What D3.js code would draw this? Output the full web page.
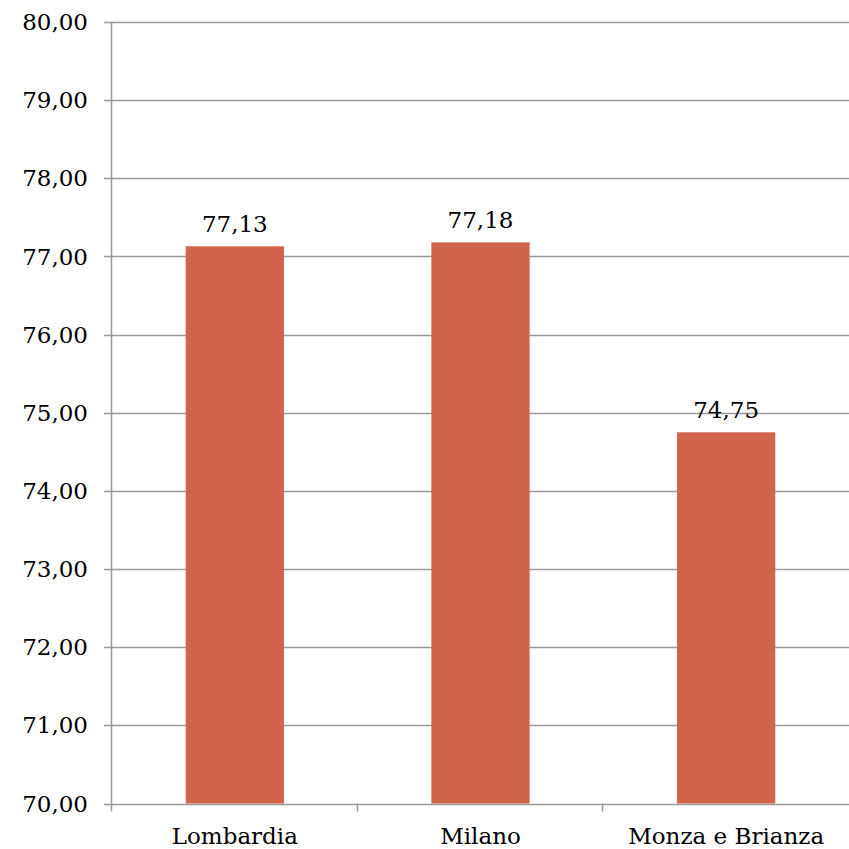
<!DOCTYPE html>
<html><head><meta charset="utf-8">
<script src="https://cdn.jsdelivr.net/npm/d3@7"></script>
<style>body{margin:0;background:#fff}svg{display:block}text{font-family:"DejaVu Serif",serif}</style>
</head><body>
<script>
const categories = ["Lombardia", "Milano", "Monza e Brianza"];
const values = [77.13, 77.18, 74.75];
const yTicks = [70, 71, 72, 73, 74, 75, 76, 77, 78, 79, 80];

const W = 849, H = 849;
const m = {left: 112, right: 0, top: 22, bottom: 45};
const fs = 23;
const fmt = v => v.toFixed(2).replace(".", ",");

const svg = d3.select("body").append("svg").attr("width", W).attr("height", H);
const x = d3.scaleBand().domain(categories).range([m.left, W - m.right]).paddingInner(0.6).paddingOuter(0.3);
const y = d3.scaleLinear().domain([70, 80]).range([H - m.bottom - 0.5, m.top]);

// gridlines
svg.append("g").selectAll("line").data(yTicks).join("line")
  .attr("x1", m.left - 8).attr("x2", W).attr("y1", d => Math.round(y(d)) + 0.5).attr("y2", d => Math.round(y(d)) + 0.5)
  .attr("stroke", "#999").attr("stroke-width", 1.5);

// y labels
svg.append("g").selectAll("text").data(yTicks).join("text")
  .attr("x", 88).attr("y", d => y(d)).attr("dy", "0.35em").attr("text-anchor", "end")
  .attr("font-size", fs).attr("fill", "#000").text(fmt);

// bars
svg.append("g").selectAll("rect").data(values).join("rect")
  .attr("x", (d, i) => x(categories[i])).attr("width", x.bandwidth())
  .attr("y", d => y(d)).attr("height", d => y(70) - y(d))
  .attr("fill", "#d0644a");

// axes lines
svg.append("line").attr("x1", m.left - 0.5).attr("x2", m.left - 0.5).attr("y1", m.top).attr("y2", y(70))
  .attr("stroke", "#999").attr("stroke-width", 1.5);
const xt = [m.left, m.left + (W - m.left) / 3, m.left + 2 * (W - m.left) / 3];
svg.append("g").selectAll("line").data(xt).join("line")
  .attr("x1", d => Math.round(d) - 0.5).attr("x2", d => Math.round(d) - 0.5)
  .attr("y1", y(70)).attr("y2", y(70) + 8).attr("stroke", "#999").attr("stroke-width", 1.5);

// value labels
svg.append("g").selectAll("text").data(values).join("text")
  .attr("x", (d, i) => x(categories[i]) + x.bandwidth() / 2).attr("y", d => y(d) - 14)
  .attr("text-anchor", "middle").attr("font-size", fs).attr("fill", "#000").text(fmt);

// category labels
svg.append("g").selectAll("text").data(categories).join("text")
  .attr("x", d => x(d) + x.bandwidth() / 2).attr("y", 844)
  .attr("text-anchor", "middle").attr("font-size", fs).attr("fill", "#000").text(d => d);
</script>
</body></html>
